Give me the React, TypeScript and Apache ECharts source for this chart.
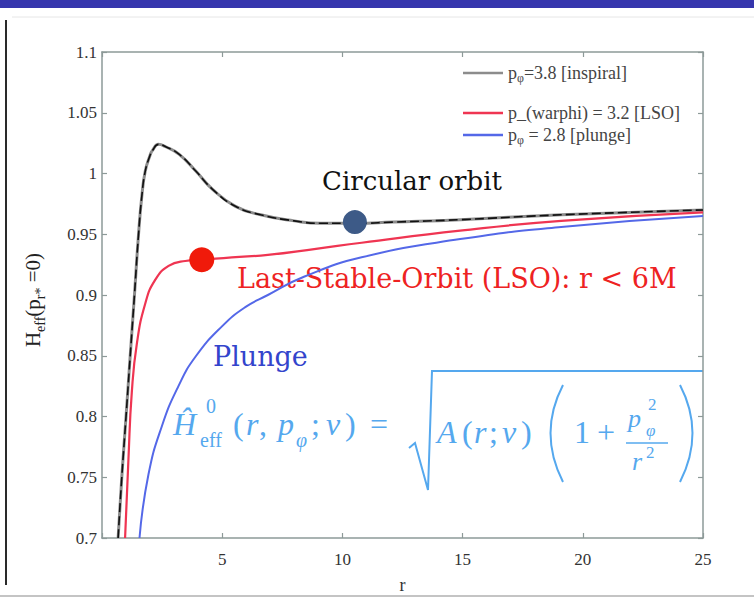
import React, { useEffect, useRef } from 'react';
import * as echarts from 'echarts';

// ---- data ----
const inspiralR = [0.67, 0.82, 1.0, 1.17, 1.35, 1.52, 1.66, 1.8, 2.0, 2.1, 2.35, 2.65, 3.2, 3.9, 4.6, 5.55, 6.6, 8.0, 9.1, 10.55, 12.1, 14.9, 19.1, 25];
const inspiralH = [0.70, 0.749, 0.80, 0.849, 0.90, 0.95, 0.982, 1.002, 1.015, 1.019, 1.024, 1.022, 1.016, 1.002, 0.987, 0.973, 0.966, 0.961, 0.959, 0.959, 0.960, 0.962, 0.966, 0.970];

const lsoR = [0.96, 1.1, 1.24, 1.45, 1.8, 2.2, 2.77, 3.46, 4.15, 5.4, 6.9, 8.9, 10.8, 14.9, 19.1, 25];
const lsoH = [0.70, 0.765, 0.82, 0.86, 0.893, 0.912, 0.924, 0.928, 0.929, 0.931, 0.933, 0.938, 0.943, 0.953, 0.961, 0.968];

const plungeR = [1.56, 1.93, 2.49, 3.18, 3.88, 4.98, 5.96, 6.9, 8.4, 10.8, 14.9, 19.1, 25];
const plungeH = [0.70, 0.752, 0.792, 0.825, 0.849, 0.874, 0.89, 0.90, 0.915, 0.931, 0.946, 0.956, 0.965];

const circularPoint = [10.52, 0.960];
const lsoPoint = [4.15, 0.929];

const xTicks = { min: 0, max: 25, interval: 5 };
const yTicks = { min: 0.7, max: 1.1, interval: 0.05 };

const legendLabels = {
  inspiral: '{n|p}{s|φ}{n|=3.8 [inspiral]}',
  lso: '{n|p_(warphi) = 3.2 [LSO]}',
  plunge: '{n|p}{s|φ}{n| = 2.8 [plunge]}',
};

const pairs = (xs: number[], ys: number[]) => xs.map((x, i) => [x, ys[i]]);

const AXIS = '#8d9a98';
const SERIF = 'Liberation Serif, serif';
const DSERIF = 'DejaVu Serif, serif';
const FORM = '#55a8ee';

const legendRich = {
  n: { fontFamily: SERIF, fontSize: 18, color: '#444', lineHeight: 22 },
  s: { fontFamily: SERIF, fontSize: 12, color: '#444', lineHeight: 12, verticalAlign: 'bottom' },
};

function mkLegend(name: string, top: number) {
  return {
    data: [name],
    left: 463,
    top,
    padding: 0,
    icon: 'rect',
    itemWidth: 40,
    itemHeight: 2.5,
    formatter: (n: string) => (legendLabels as any)[n],
    textStyle: { rich: legendRich, fontFamily: SERIF, fontSize: 18, color: '#444' },
  };
}

// formula pieces: [text, x, centerY, size, italic]
const formulaPieces: [string, number, number, number, boolean][] = [
  ['Ĥ', 173, 424, 32, true],
  ['0', 206, 406, 20, false],
  ['eff', 200, 440, 20, false],
  ['(', 233, 424, 32, false],
  ['r', 246, 424, 32, true],
  [',', 259, 424, 32, false],
  ['p', 278, 424, 32, true],
  ['φ', 296, 440, 20, true],
  [';', 311, 424, 32, false],
  ['ν', 326, 424, 32, true],
  [')', 345, 424, 32, false],
  ['=', 370, 424, 32, false],
  ['A', 437, 432, 32, true],
  ['(', 462, 432, 32, false],
  ['r', 474, 432, 32, true],
  [';', 489, 432, 32, false],
  ['ν', 502, 432, 32, true],
  [')', 521, 432, 32, false],
  ['1', 574, 432, 32, false],
  ['+', 597, 432, 32, false],
  ['p', 628, 418, 26, true],
  ['2', 648, 404, 17, false],
  ['φ', 646, 430, 17, true],
  ['r', 632, 461, 26, true],
  ['2', 646, 452, 17, false],
];

function rt(text: string, family: string, size: number, color: string, italic = false) {
  return {
    text: `{a|${text}}`,
    rich: { a: { fontFamily: family, fontSize: size, fill: color, fontStyle: italic ? 'italic' : 'normal', lineHeight: Math.round(size * 1.2) } },
  };
}

export default function App() {
  const ref = useRef<HTMLDivElement>(null);
  useEffect(() => {
    document.body.style.margin = '0';
    const chart = echarts.init(ref.current!, null, { renderer: 'svg' });

    const axisLine = { show: true, onZero: false, lineStyle: { color: AXIS, width: 1.5 } };
    const axisTick = { show: true, inside: true, length: 5, lineStyle: { color: AXIS, width: 1.2 } };
    const lblRich = { a: { fontFamily: SERIF, fontSize: 17, color: '#333', lineHeight: 20 } };

    const graphic: any[] = [
      { type: 'rect', shape: { x: 0, y: 0, width: 754, height: 8 }, style: { fill: '#3636ad' }, silent: true },
      { type: 'line', shape: { x1: 12, y1: 17, x2: 754, y2: 17 }, style: { stroke: '#e6e6e6', lineWidth: 1 } },
      { type: 'line', shape: { x1: 6, y1: 20, x2: 6, y2: 585 }, style: { stroke: '#2a2a2a', lineWidth: 2 } },
      { type: 'line', shape: { x1: 0, y1: 596, x2: 754, y2: 596 }, style: { stroke: '#c4c4c4', lineWidth: 2 } },
      {
        type: 'text', x: 33, y: 300, rotation: Math.PI / 2,
        style: {
          text: '{n|H}{s|eff}{n|(p}{s|r*}{n| =0)}',
          align: 'center', verticalAlign: 'middle',
          rich: {
            n: { fontFamily: SERIF, fontSize: 21, fill: '#222', lineHeight: 28 },
            s: { fontFamily: SERIF, fontSize: 14, fill: '#222', lineHeight: 14, verticalAlign: 'bottom' },
          },
        },
      },
      { type: 'text', x: 322, y: 181, style: { ...rt('Circular orbit', DSERIF, 26, '#111'), align: 'left', verticalAlign: 'middle' } },
      { type: 'text', x: 237, y: 278, style: { ...rt('Last-Stable-Orbit (LSO): r < 6M', DSERIF, 27, '#ee2222'), align: 'left', verticalAlign: 'middle' } },
      { type: 'text', x: 213, y: 356, style: { ...rt('Plunge', DSERIF, 27, '#3344cc'), align: 'left', verticalAlign: 'middle' } },
      // radical
      { type: 'polyline', shape: { points: [[409, 448], [415, 443], [428, 490], [432, 371], [703, 371]] }, style: { stroke: FORM, lineWidth: 2, fill: 'none' } },
      // big parentheses
      { type: 'bezierCurve', shape: { x1: 563, y1: 385, x2: 563, y2: 482, cpx1: 538, cpy1: 433 }, style: { stroke: FORM, lineWidth: 2, fill: 'none' } },
      { type: 'bezierCurve', shape: { x1: 680, y1: 385, x2: 680, y2: 482, cpx1: 705, cpy1: 433 }, style: { stroke: FORM, lineWidth: 2, fill: 'none' } },
      // fraction bar
      { type: 'line', shape: { x1: 626, y1: 443, x2: 668, y2: 443 }, style: { stroke: FORM, lineWidth: 1.3 } },
      ...formulaPieces.map(([t, x, y, s, it]) => ({
        type: 'text', x, y,
        style: { ...rt(t, SERIF, s, FORM, it), align: 'left', verticalAlign: 'middle' },
      })),
    ];

    const common = { type: 'line', symbol: 'none', showSymbol: false, smooth: 0.5, clip: true };

    const option: any = {
      animation: false,
      backgroundColor: '#ffffff',
      grid: { left: 102, top: 52, width: 601, height: 490 },
      xAxis: [
        {
          type: 'value', ...xTicks, axisLine, axisTick, splitLine: { show: false },
          axisLabel: { margin: 11, rich: lblRich, formatter: (v: number) => (v === 0 ? '' : `{a|${v}}`) },
          name: '{a|r}', nameLocation: 'middle', nameGap: 37,
          nameTextStyle: { rich: { a: { fontFamily: SERIF, fontSize: 18, color: '#333', lineHeight: 20 } } },
        },
        { type: 'value', position: 'top', ...xTicks, axisLine, axisTick, splitLine: { show: false }, axisLabel: { show: false } },
      ],
      yAxis: [
        {
          type: 'value', ...yTicks, axisLine, axisTick, splitLine: { show: false },
          axisLabel: { margin: 5, rich: lblRich, formatter: (v: number) => `{a|${+v.toFixed(2)}}` },
        },
        { type: 'value', position: 'right', ...yTicks, axisLine, axisTick, splitLine: { show: false }, axisLabel: { show: false } },
      ],
      legend: [mkLegend('inspiral', 64), mkLegend('lso', 104), mkLegend('plunge', 126)],
      series: [
        { ...common, name: 'inspiral', data: pairs(inspiralR, inspiralH), lineStyle: { color: '#8c8c8c', width: 3 }, itemStyle: { color: '#8c8c8c' }, z: 2 },
        { ...common, name: 'inspiral-dash', data: pairs(inspiralR, inspiralH), lineStyle: { color: '#111', width: 1.6, type: [9, 4] }, z: 3 },
        { ...common, name: 'lso', data: pairs(lsoR, lsoH), lineStyle: { color: '#ef3552', width: 2.2 }, itemStyle: { color: '#ef3552' }, z: 3 },
        { ...common, name: 'plunge', data: pairs(plungeR, plungeH), lineStyle: { color: '#5468e8', width: 2 }, itemStyle: { color: '#5468e8' }, z: 3 },
        { name: 'circular', type: 'scatter', data: [circularPoint], symbolSize: 24, itemStyle: { color: '#3d5a87', opacity: 1 }, z: 5 },
        { name: 'lsoDot', type: 'scatter', data: [lsoPoint], symbolSize: 25, itemStyle: { color: '#f01a0a', opacity: 1 }, z: 5 },
      ],
      graphic,
    };
    chart.setOption(option);
    return () => chart.dispose();
  }, []);
  return <div ref={ref} style={{ width: 754, height: 599 }} />;
}
